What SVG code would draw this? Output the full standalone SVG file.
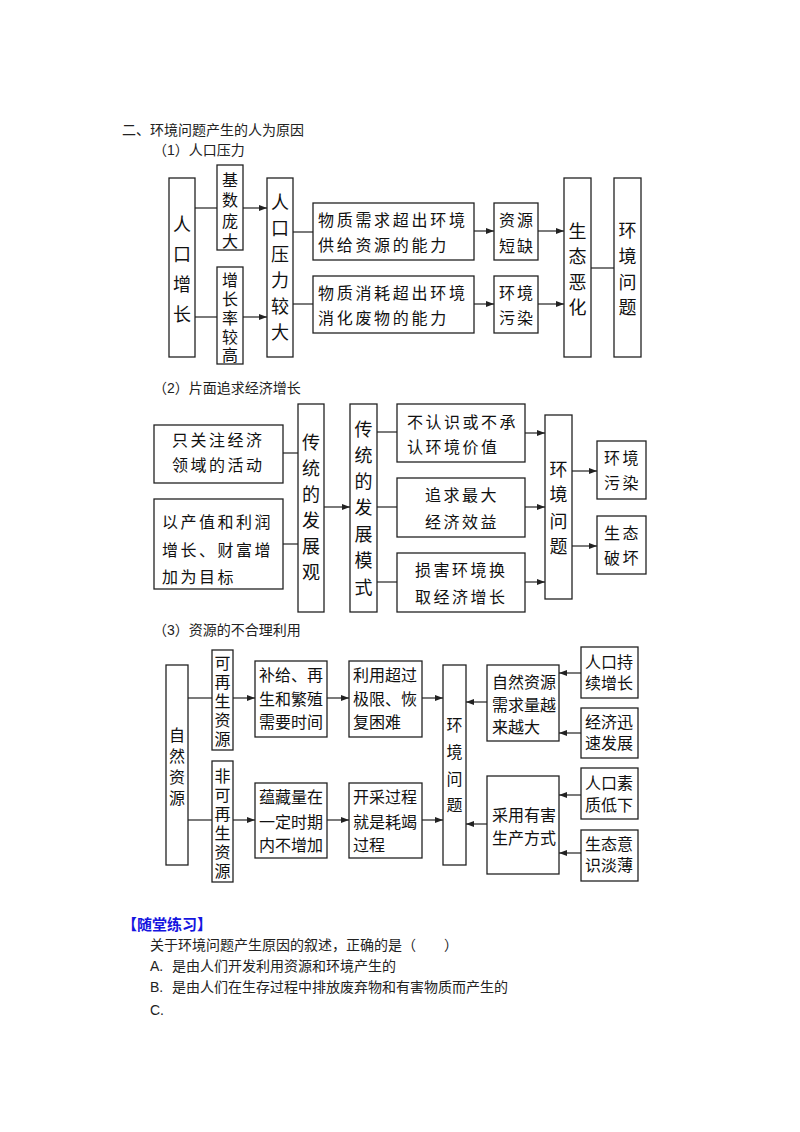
<svg xmlns="http://www.w3.org/2000/svg" width="800" height="1132" viewBox="0 0 800 1132">
<style>
.bx{fill:#fff;stroke:#222;stroke-width:1.3}
.t{font-family:"Liberation Sans","Noto Sans CJK SC",sans-serif;font-size:16px;fill:#111;dominant-baseline:central}
.v{text-anchor:middle;font-size:18px}
.vs{text-anchor:middle;font-size:16px}
.w{letter-spacing:2.7px}
.w2{letter-spacing:2.5px}
.h{font-family:"Liberation Sans","Noto Sans CJK SC",sans-serif;font-size:14px;fill:#222;dominant-baseline:central}
.ln{stroke:#222;stroke-width:1.2;fill:none}
.ar{stroke:#222;stroke-width:1.2;fill:none;marker-end:url(#ah)}
</style>
<defs>
<marker id="ah" markerUnits="userSpaceOnUse" markerWidth="8" markerHeight="6" refX="8" refY="3" orient="auto">
<path d="M0,0 L8,3 L0,6 z" fill="#222"/>
</marker>
</defs>
<rect width="800" height="1132" fill="#fff"/>

<text class="h" x="122" y="130">二、环境问题产生的人为原因</text>
<text class="h" x="153" y="150">（1）人口压力</text>
<text class="h" x="153" y="388">（2）片面追求经济增长</text>
<text class="h" x="153" y="630">（3）资源的不合理利用</text>

<g id="connectors">
<!-- section 1 -->
<line class="ln" x1="195" y1="208" x2="217" y2="208"/>
<line class="ar" x1="243" y1="208" x2="267" y2="208"/>
<line class="ln" x1="195" y1="317" x2="217" y2="317"/>
<line class="ar" x1="243" y1="317" x2="267" y2="317"/>
<line class="ln" x1="293" y1="232" x2="313" y2="232"/>
<line class="ln" x1="293" y1="304" x2="313" y2="304"/>
<line class="ar" x1="474" y1="231" x2="494" y2="231"/>
<line class="ar" x1="474" y1="304" x2="494" y2="304"/>
<line class="ar" x1="538" y1="231" x2="564" y2="231"/>
<line class="ar" x1="538" y1="304" x2="564" y2="304"/>
<line class="ln" x1="591" y1="268" x2="614" y2="268"/>
<!-- section 2 -->
<line class="ln" x1="283" y1="453" x2="298" y2="453"/>
<line class="ln" x1="283" y1="544" x2="298" y2="544"/>
<line class="ar" x1="324" y1="507" x2="350" y2="507"/>
<line class="ln" x1="377" y1="432" x2="397" y2="432"/>
<line class="ln" x1="377" y1="507" x2="397" y2="507"/>
<line class="ln" x1="377" y1="582" x2="397" y2="582"/>
<line class="ar" x1="525" y1="433" x2="545" y2="433"/>
<line class="ar" x1="525" y1="507" x2="545" y2="507"/>
<line class="ar" x1="525" y1="582" x2="545" y2="582"/>
<line class="ar" x1="572" y1="471" x2="597" y2="471"/>
<line class="ar" x1="572" y1="546" x2="597" y2="546"/>
<!-- section 3 -->
<line class="ln" x1="188" y1="698" x2="212" y2="698"/>
<line class="ln" x1="188" y1="820" x2="212" y2="820"/>
<line class="ar" x1="233" y1="698" x2="255" y2="698"/>
<line class="ar" x1="327" y1="698" x2="349" y2="698"/>
<line class="ar" x1="422" y1="698" x2="443" y2="698"/>
<line class="ar" x1="233" y1="820" x2="255" y2="820"/>
<line class="ar" x1="327" y1="820" x2="349" y2="820"/>
<line class="ar" x1="422" y1="820" x2="443" y2="820"/>
<line class="ar" x1="487" y1="702" x2="466" y2="702"/>
<line class="ar" x1="487" y1="824" x2="466" y2="824"/>
<line class="ar" x1="581" y1="673" x2="559" y2="673"/>
<line class="ar" x1="581" y1="733" x2="559" y2="733"/>
<line class="ar" x1="581" y1="795" x2="559" y2="795"/>
<line class="ar" x1="581" y1="853" x2="559" y2="853"/>
</g>

<!-- Section 1 nodes -->
<g id="s1-renkouzengzhang">
<rect class="bx" x="169" y="178" width="26" height="179"/>
<text class="t v"><tspan x="182" y="225">人</tspan><tspan x="182" y="255">口</tspan><tspan x="182" y="285">增</tspan><tspan x="182" y="315">长</tspan></text>
</g>
<g id="s1-jishupangda">
<rect class="bx" x="217" y="165" width="26" height="85"/>
<text class="t vs"><tspan x="230" y="180">基</tspan><tspan x="230" y="200">数</tspan><tspan x="230" y="221">庞</tspan><tspan x="230" y="241">大</tspan></text>
</g>
<g id="s1-zengzhanglv">
<rect class="bx" x="217" y="267" width="26" height="97"/>
<text class="t vs"><tspan x="230" y="280">增</tspan><tspan x="230" y="299">长</tspan><tspan x="230" y="318">率</tspan><tspan x="230" y="337">较</tspan><tspan x="230" y="355">高</tspan></text>
</g>
<g id="s1-yali">
<rect class="bx" x="267" y="178" width="26" height="179"/>
<text class="t v"><tspan x="280" y="203">人</tspan><tspan x="280" y="229">口</tspan><tspan x="280" y="255">压</tspan><tspan x="280" y="281">力</tspan><tspan x="280" y="307">较</tspan><tspan x="280" y="333">大</tspan></text>
</g>
<g id="s1-xuqiu">
<rect class="bx" x="313" y="203" width="161" height="57"/>
<text class="t w" x="318" y="220">物质需求超出环境</text>
<text class="t w" x="318" y="245">供给资源的能力</text>
</g>
<g id="s1-xiaohao">
<rect class="bx" x="313" y="276" width="161" height="57"/>
<text class="t w" x="318" y="293">物质消耗超出环境</text>
<text class="t w" x="318" y="318">消化废物的能力</text>
</g>
<g id="s1-ziyuanduanque">
<rect class="bx" x="494" y="203" width="44" height="57"/>
<text class="t" x="499" y="220" letter-spacing="2">资源</text>
<text class="t" x="499" y="246" letter-spacing="2">短缺</text>
</g>
<g id="s1-huanjingwuran">
<rect class="bx" x="494" y="276" width="44" height="57"/>
<text class="t" x="499" y="293" letter-spacing="2">环境</text>
<text class="t" x="499" y="318" letter-spacing="2">污染</text>
</g>
<g id="s1-shengtaiehua">
<rect class="bx" x="564" y="178" width="27" height="179"/>
<text class="t v"><tspan x="577.5" y="232">生</tspan><tspan x="577.5" y="257">态</tspan><tspan x="577.5" y="283">恶</tspan><tspan x="577.5" y="308">化</tspan></text>
</g>
<g id="s1-huanjingwenti">
<rect class="bx" x="614" y="178" width="27" height="179"/>
<text class="t v"><tspan x="627.5" y="231">环</tspan><tspan x="627.5" y="257">境</tspan><tspan x="627.5" y="283">问</tspan><tspan x="627.5" y="308">题</tspan></text>
</g>

<!-- Section 2 nodes -->
<g id="s2-zhiguanzhu">
<rect class="bx" x="154" y="425" width="129" height="58"/>
<text class="t w2" x="172" y="440">只关注经济</text>
<text class="t w2" x="172" y="465">领域的活动</text>
</g>
<g id="s2-yichanzhi">
<rect class="bx" x="154" y="499" width="129" height="90"/>
<text class="t w2" x="162" y="522">以产值和利润</text>
<text class="t w2" x="162" y="550">增长、财富增</text>
<text class="t w2" x="162" y="577">加为目标</text>
</g>
<g id="s2-fazhanguan">
<rect class="bx" x="298" y="404" width="26" height="208"/>
<text class="t v"><tspan x="311" y="443">传</tspan><tspan x="311" y="469">统</tspan><tspan x="311" y="495">的</tspan><tspan x="311" y="521">发</tspan><tspan x="311" y="547">展</tspan><tspan x="311" y="573">观</tspan></text>
</g>
<g id="s2-fazhanmoshi">
<rect class="bx" x="350" y="404" width="27" height="208"/>
<text class="t v"><tspan x="363.5" y="430">传</tspan><tspan x="363.5" y="456">统</tspan><tspan x="363.5" y="482">的</tspan><tspan x="363.5" y="508">发</tspan><tspan x="363.5" y="535">展</tspan><tspan x="363.5" y="561">模</tspan><tspan x="363.5" y="588">式</tspan></text>
</g>
<g id="s2-burenshi">
<rect class="bx" x="397" y="404" width="128" height="58"/>
<text class="t w2" x="407" y="422">不认识或不承</text>
<text class="t w2" x="407" y="447">认环境价值</text>
</g>
<g id="s2-zhuiqiu">
<rect class="bx" x="397" y="478" width="128" height="59"/>
<text class="t w2" x="425" y="495">追求最大</text>
<text class="t w2" x="425" y="522">经济效益</text>
</g>
<g id="s2-sunhai">
<rect class="bx" x="397" y="553" width="128" height="59"/>
<text class="t w2" x="415" y="570">损害环境换</text>
<text class="t w2" x="415" y="597">取经济增长</text>
</g>
<g id="s2-huanjingwenti">
<rect class="bx" x="545" y="415" width="27" height="184"/>
<text class="t v"><tspan x="558.5" y="470">环</tspan><tspan x="558.5" y="495">境</tspan><tspan x="558.5" y="522">问</tspan><tspan x="558.5" y="547">题</tspan></text>
</g>
<g id="s2-huanjingwuran">
<rect class="bx" x="597" y="441" width="49" height="58"/>
<text class="t w2" x="604" y="458">环境</text>
<text class="t w2" x="604" y="483">污染</text>
</g>
<g id="s2-shengtaipohuai">
<rect class="bx" x="597" y="516" width="49" height="58"/>
<text class="t w2" x="604" y="533">生态</text>
<text class="t w2" x="604" y="558">破坏</text>
</g>

<!-- Section 3 nodes -->
<g id="s3-ziranziyuan">
<rect class="bx" x="166" y="665" width="22" height="200"/>
<text class="t vs"><tspan x="177" y="735">自</tspan><tspan x="177" y="756">然</tspan><tspan x="177" y="777">资</tspan><tspan x="177" y="798">源</tspan></text>
</g>
<g id="s3-kezaisheng">
<rect class="bx" x="212" y="650" width="21" height="100"/>
<text class="t vs"><tspan x="222.5" y="663">可</tspan><tspan x="222.5" y="682">再</tspan><tspan x="222.5" y="701">生</tspan><tspan x="222.5" y="720">资</tspan><tspan x="222.5" y="739">源</tspan></text>
</g>
<g id="s3-feikezaisheng">
<rect class="bx" x="212" y="761" width="21" height="121"/>
<text class="t vs"><tspan x="222.5" y="776">非</tspan><tspan x="222.5" y="795">可</tspan><tspan x="222.5" y="814">再</tspan><tspan x="222.5" y="833">生</tspan><tspan x="222.5" y="852">资</tspan><tspan x="222.5" y="871">源</tspan></text>
</g>
<g id="s3-buji">
<rect class="bx" x="255" y="661" width="72" height="76"/>
<text class="t" x="259" y="675">补给、再</text>
<text class="t" x="259" y="699">生和繁殖</text>
<text class="t" x="259" y="722">需要时间</text>
</g>
<g id="s3-liyong">
<rect class="bx" x="349" y="661" width="73" height="76"/>
<text class="t" x="353" y="675">利用超过</text>
<text class="t" x="353" y="699">极限、恢</text>
<text class="t" x="353" y="722">复困难</text>
</g>
<g id="s3-yuncang">
<rect class="bx" x="255" y="783" width="72" height="75"/>
<text class="t" x="259" y="797">蕴藏量在</text>
<text class="t" x="259" y="822">一定时期</text>
<text class="t" x="259" y="845">内不增加</text>
</g>
<g id="s3-kaicai">
<rect class="bx" x="349" y="783" width="73" height="75"/>
<text class="t" x="353" y="797">开采过程</text>
<text class="t" x="353" y="822">就是耗竭</text>
<text class="t" x="353" y="845">过程</text>
</g>
<g id="s3-huanjingwenti">
<rect class="bx" x="443" y="665" width="23" height="200"/>
<text class="t vs"><tspan x="454.5" y="725">环</tspan><tspan x="454.5" y="752">境</tspan><tspan x="454.5" y="779">问</tspan><tspan x="454.5" y="805">题</tspan></text>
</g>
<g id="s3-xuqiuliang">
<rect class="bx" x="487" y="665" width="72" height="76"/>
<text class="t" x="492" y="682">自然资源</text>
<text class="t" x="492" y="705">需求量越</text>
<text class="t" x="492" y="727">来越大</text>
</g>
<g id="s3-caiyong">
<rect class="bx" x="487" y="776" width="72" height="98"/>
<text class="t" x="492" y="815">采用有害</text>
<text class="t" x="492" y="838">生产方式</text>
</g>
<g id="s3-renkouchixu">
<rect class="bx" x="581" y="647" width="57" height="51"/>
<text class="t" x="585" y="662">人口持</text>
<text class="t" x="585" y="683">续增长</text>
</g>
<g id="s3-jingjixunsu">
<rect class="bx" x="581" y="708" width="57" height="50"/>
<text class="t" x="585" y="722">经济迅</text>
<text class="t" x="585" y="743">速发展</text>
</g>
<g id="s3-renkousuzhi">
<rect class="bx" x="581" y="768" width="57" height="51"/>
<text class="t" x="585" y="783">人口素</text>
<text class="t" x="585" y="805">质低下</text>
</g>
<g id="s3-shengtaiyishi">
<rect class="bx" x="581" y="830" width="57" height="51"/>
<text class="t" x="585" y="844">生态意</text>
<text class="t" x="585" y="865">识淡薄</text>
</g>

<!-- Exercise text -->
<text class="h" x="122" y="924" style="fill:#1515e0;font-weight:bold;font-size:15px">【随堂练习】</text>
<text class="h" x="150" y="945">关于环境问题产生原因的叙述，正确的是（　　）</text>
<text class="h" x="150" y="966">A.</text>
<text class="h" x="172" y="966">是由人们开发利用资源和环境产生的</text>
<text class="h" x="150" y="987">B.</text>
<text class="h" x="172" y="987">是由人们在生存过程中排放废弃物和有害物质而产生的</text>
<text class="h" x="150" y="1010">C.</text>
</svg>
